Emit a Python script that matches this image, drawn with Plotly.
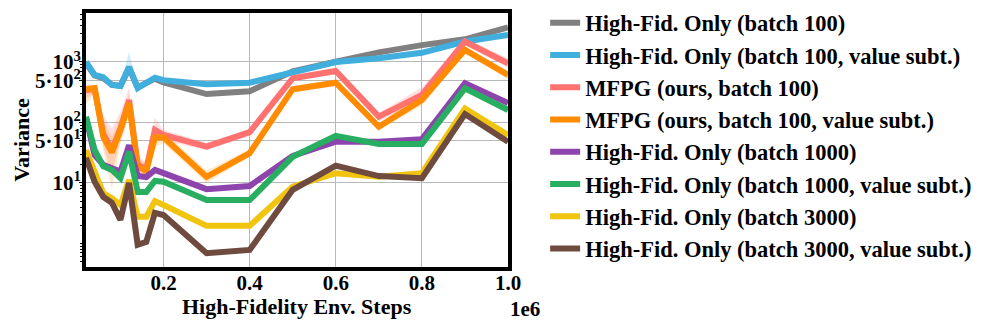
import plotly.graph_objects as go

# env steps (x 1e6)
steps = [0.02, 0.04, 0.06, 0.08, 0.10, 0.12, 0.14, 0.16, 0.18, 0.20,
         0.3, 0.4, 0.5, 0.6, 0.7, 0.8, 0.9, 1.0]

hf_100 = [950, 600, 540, 420, 400, 800, 380, 440, 530, 460, 295, 328, 700, 1010, 1440, 1900, 2370, 3730]
hf_100_vs = [1000, 610, 560, 417, 400, 830, 370, 450, 550, 500, 428, 455, 690, 1000, 1150, 1420, 2180, 2800]
mfpg_100 = [340, 360, 65, 35, 80, 235, 20, 17, 75, 62, 40, 69, 540, 710, 125, 285, 2180, 950]
mfpg_100_vs = [355, 370, 58, 32, 75, 210, 18.6, 15.8, 57, 57, 12.6, 31, 355, 455, 85, 235, 1590, 610]
hf_1000 = [120, 29, 20, 18, 15.4, 42, 13, 12.5, 16.4, 14.5, 7.9, 8.9, 28, 48, 48, 53, 445, 210]
hf_1000_vs = [124, 35, 19, 16.4, 12, 33, 7.1, 7.1, 10.8, 10.5, 5.2, 5.2, 27, 60, 44, 44, 367, 161]
hf_3000 = [35, 15, 6.8, 5.6, 4.3, 11.2, 2.75, 2.75, 5.0, 4.3, 1.95, 1.95, 8.7, 14.5, 12.7, 14.5, 170, 62]
hf_3000_vs = [26, 10.5, 5.9, 4.7, 2.45, 10, 0.95, 1.06, 3.2, 2.95, 0.69, 0.78, 7.7, 19.3, 13, 12, 138, 48]

# shaded spread for the most visible series
hf_100_vs_lo = [900, 560, 510, 385, 370, 600, 340, 415, 510, 465, 400, 425, 640, 930, 1070, 1320, 2030, 2600]
hf_100_vs_hi = [1100, 660, 610, 450, 430, 1480, 400, 485, 590, 535, 456, 485, 740, 1070, 1230, 1520, 2330, 3000]
mfpg_100_lo = [250, 300, 40, 15, 50, 150, 15, 13, 50, 50, 35, 60, 480, 620, 105, 220, 1900, 800]
mfpg_100_hi = [420, 420, 130, 80, 150, 380, 28, 22, 120, 75, 46, 78, 600, 800, 145, 380, 2450, 1150]
mfpg_100_vs_lo = [200, 300, 35, 8, 45, 130, 14, 12, 40, 45, 10, 27, 310, 400, 75, 190, 1400, 520]
mfpg_100_vs_hi = [400, 420, 110, 60, 120, 300, 25, 21, 80, 70, 16, 36, 400, 510, 97, 290, 1800, 720]

names = ["High-Fid. Only (batch 100)",
         "High-Fid. Only (batch 100, value subt.)",
         "MFPG (ours, batch 100)",
         "MFPG (ours, batch 100, value subt.)",
         "High-Fid. Only (batch 1000)",
         "High-Fid. Only (batch 1000, value subt.)",
         "High-Fid. Only (batch 3000)",
         "High-Fid. Only (batch 3000, value subt.)"]
series = [hf_100, hf_100_vs, mfpg_100, mfpg_100_vs, hf_1000, hf_1000_vs, hf_3000, hf_3000_vs]
colors = ["#808080", "#40afdd", "#ff7270", "#ff8c00", "#8e44ad", "#27ae60", "#f1c40f", "#6f4a3f"]
bands = [(hf_100_vs_lo, hf_100_vs_hi, "rgba(64,175,221,0.22)"),
         (mfpg_100_lo, mfpg_100_hi, "rgba(255,114,112,0.22)"),
         (mfpg_100_vs_lo, mfpg_100_vs_hi, "rgba(255,140,0,0.2)")]

FONT = "Palatino Linotype, Book Antiqua, Palatino, Liberation Serif, serif"

fig = go.Figure()
for lo, hi, fc in bands:
    fig.add_trace(go.Scatter(x=steps, y=lo, mode='lines', line=dict(width=0),
                             showlegend=False, hoverinfo='skip'))
    fig.add_trace(go.Scatter(x=steps, y=hi, mode='lines', line=dict(width=0),
                             fill='tonexty', fillcolor=fc, showlegend=False, hoverinfo='skip'))

for i in range(len(series)):
    fig.add_trace(go.Scatter(x=steps, y=series[i], mode='lines', name=names[i],
                             line=dict(color=colors[i], width=6)))

# page body adds an 8px offset, so the figure is 8px smaller and margins shifted
fig.update_layout(
    width=988, height=321,
    margin=dict(l=78, r=488, t=5, b=62, autoexpand=False),
    paper_bgcolor='white', plot_bgcolor='white',
    font=dict(family=FONT, size=20, color='black', weight='bold'),
    legend=dict(x=1.088, y=1.045, xanchor='left', yanchor='top',
                traceorder='normal', maxheight=329,
                font=dict(family=FONT, size=22.5, color='black', weight='bold'),
                bgcolor='rgba(0,0,0,0)', itemwidth=30),
)
fig.update_xaxes(range=[0.02, 1.0], tickvals=[0.2, 0.4, 0.6, 0.8, 1.0],
                 ticktext=["0.2", "0.4", "0.6", "0.8", "1.0"],
                 showgrid=True, gridcolor='#b8b8b8', gridwidth=1,
                 showline=True, linecolor='black', linewidth=4, mirror=True,
                 ticks='', automargin=False, ticklabelstandoff=-6,
                 tickfont=dict(size=21), zeroline=False)
fig.update_yaxes(type='log', range=[-0.39, 3.81],
                 tickvals=[10, 50, 100, 500, 1000],
                 ticktext=["10<sup>1</sup>", "5·10<sup>1</sup>", "10<sup>2</sup>",
                           "5·10<sup>2</sup>", "10<sup>3</sup>"],
                 showgrid=True, gridcolor='#b8b8b8', gridwidth=1,
                 showline=True, linecolor='black', linewidth=4, mirror=True,
                 ticks='outside', ticklen=3, tickcolor='black', automargin=False,
                 ticklabelstandoff=-6,
                 minor=dict(ticks='outside', ticklen=2, tickcolor='black', dtick='D1', showgrid=False),
                 tickfont=dict(size=21), zeroline=False,
                 title=dict(text="Variance", font=dict(size=22), standoff=0))

# x title and offset text
fig.add_annotation(x=0.5, y=-0.098, xref='paper', yref='paper', text="High-Fidelity Env. Steps",
                   showarrow=False, xanchor='center', yanchor='top',
                   font=dict(family=FONT, size=22, color='black', weight='bold'))
fig.add_annotation(x=1.0, y=-0.11, xref='paper', yref='paper', text="1e6",
                   showarrow=False, xanchor='left', yanchor='top',
                   font=dict(family=FONT, size=21, color='black', weight='bold'))

fig.write_html("out.html")
